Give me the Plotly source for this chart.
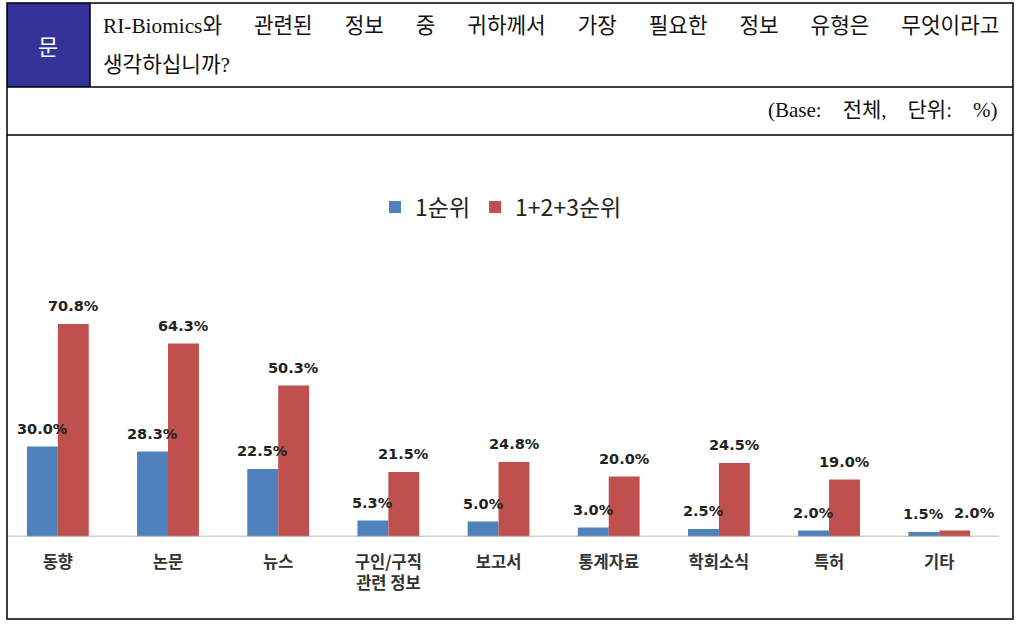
import plotly.graph_objects as go

W, H = 1028, 624

categories = ["동향", "논문", "뉴스", "구인/구직<br>관련 정보", "보고서", "통계자료", "학회소식", "특허", "기타"]
rank1 = [30.0, 28.3, 22.5, 5.3, 5.0, 3.0, 2.5, 2.0, 1.5]
rank123 = [70.8, 64.3, 50.3, 21.5, 24.8, 20.0, 24.5, 19.0, 2.0]
series_names = ["1순위", "1+2+3순위"]
series_colors = ["#4F81BD", "#C0504D"]

question_lines = [
    "RI-Biomics와 관련된 정보 중 귀하께서 가장 필요한 정보 유형은 무엇이라고",
    "생각하십니까?",
]
base_note = "(Base:\u3000전체,\u3000단위:\u3000%)"


def fx(px):
    return px / W


def fy(py):
    return 1 - py / H


fig = go.Figure()
for name, vals, col in zip(series_names, [rank1, rank123], series_colors):
    fig.add_trace(go.Bar(
        x=categories, y=vals, name=name,
        marker=dict(color=col, line=dict(width=0)),
        cliponaxis=False,
    ))

# value labels above each bar (last pair nudged apart like the original)
annotations = []
bar_shift = 15.5
nudge = {("기타", 1): 20}
for i, vals in enumerate([rank1, rank123]):
    for c, v in zip(categories, vals):
        annotations.append(dict(
            x=c, y=v, xref="x", yref="y", text=f"{v:.1f}%",
            showarrow=False, yanchor="bottom", xanchor="center",
            xshift=(-bar_shift if i == 0 else bar_shift) + nudge.get((c, i), 0),
            yshift=8,
            font=dict(family="DejaVu Sans", size=14.5, color="#222222", weight="bold"),
        ))

# table header texts
serif = "Liberation Serif, Noto Sans CJK KR"
gap = "\u3000  "
annotations.append(dict(
    x=fx(48), y=fy(45), xref="paper", yref="paper", text="문", showarrow=False,
    font=dict(family="Noto Sans CJK KR", size=22, color="white"),
    xanchor="center", yanchor="middle",
))
annotations.append(dict(
    x=fx(101), y=fy(26), xref="paper", yref="paper",
    text=question_lines[0].replace(" ", gap), showarrow=False,
    font=dict(family=serif, size=21.3, color="#111111"),
    xanchor="left", yanchor="middle",
))
annotations.append(dict(
    x=fx(101), y=fy(65), xref="paper", yref="paper",
    text=question_lines[1], showarrow=False,
    font=dict(family=serif, size=21.3, color="#111111"),
    xanchor="left", yanchor="middle",
))
annotations.append(dict(
    x=fx(1000), y=fy(110), xref="paper", yref="paper",
    text=base_note, showarrow=False,
    font=dict(family=serif, size=21, color="#111111"),
    xanchor="right", yanchor="middle",
))

line = dict(color="black", width=1.5)
shapes = [
    dict(type="rect", xref="paper", yref="paper", x0=fx(7), x1=fx(90), y0=fy(3), y1=fy(87),
         fillcolor="#333399", line=dict(width=0), layer="below"),
    dict(type="rect", xref="paper", yref="paper", x0=fx(7), x1=fx(1013), y0=fy(3), y1=fy(619),
         line=line),
    dict(type="line", xref="paper", yref="paper", x0=fx(7), x1=fx(1013), y0=fy(87), y1=fy(87), line=line),
    dict(type="line", xref="paper", yref="paper", x0=fx(7), x1=fx(1013), y0=fy(135), y1=fy(135), line=line),
    dict(type="line", xref="paper", yref="paper", x0=fx(90), x1=fx(90), y0=fy(3), y1=fy(87), line=line),
    # category baseline
    dict(type="line", xref="paper", yref="y", x0=fx(8), x1=fx(999), y0=0, y1=0,
         line=dict(color="#A0A0A0", width=1.5)),
]

fig.update_layout(
    width=W, height=H,
    margin=dict(l=0, r=0, t=0, b=0),
    paper_bgcolor="white", plot_bgcolor="white",
    barmode="group", bargap=0.439, bargroupgap=0,
    showlegend=True,
    legend=dict(
        orientation="h", x=fx(501), y=fy(207), xanchor="center", yanchor="middle",
        font=dict(family="Noto Sans CJK KR", size=23, color="#222222"),
        itemwidth=30, traceorder="normal",
    ),
    xaxis=dict(
        domain=[fx(2.75), fx(997.25)],
        showline=False, showgrid=False, zeroline=False, ticks="",
        tickfont=dict(family="Noto Sans CJK KR", size=16.5, color="#333333", weight="bold"),
        ticklabelstandoff=14,
    ),
    yaxis=dict(
        domain=[fy(536.5), fy(296.5)], range=[0, 80],
        showticklabels=False, showgrid=False, zeroline=False, showline=False,
    ),
    annotations=annotations,
    shapes=shapes,
)

fig.write_html(
    "out.html",
    config={"displayModeBar": False},
    post_script="document.body.style.margin='0';document.body.style.overflow='hidden';",
)
